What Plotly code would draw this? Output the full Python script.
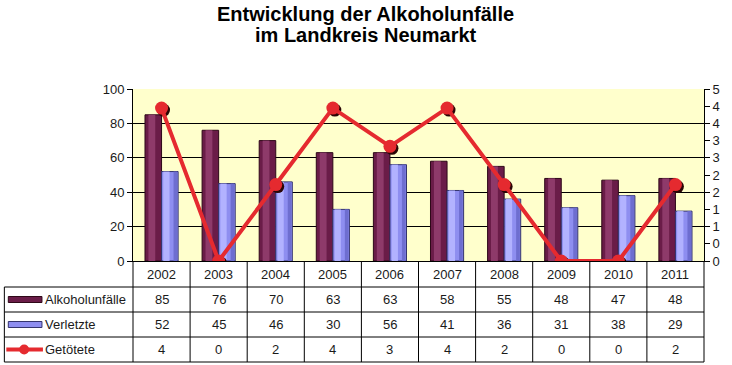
import plotly.graph_objects as go

years = [2002, 2003, 2004, 2005, 2006, 2007, 2008, 2009, 2010, 2011]
alkoholunfaelle = [85, 76, 70, 63, 63, 58, 55, 48, 47, 48]
verletzte = [52, 45, 46, 30, 56, 41, 36, 31, 38, 29]
getoetete = [4, 0, 2, 4, 3, 4, 2, 0, 0, 2]
series_names = ["Alkoholunfälle", "Verletzte", "Getötete"]
title_lines = ["Entwicklung der Alkoholunfälle", "im Landkreis Neumarkt"]
left_ticks = [0, 20, 40, 60, 80, 100]
right_tickvals = [0, 0.45, 0.9, 1.35, 1.8, 2.25, 2.7, 3.15, 3.6, 4.05, 4.5]
right_ticktext = ["0", "0", "1", "1", "2", "2", "3", "3", "4", "4", "5"]

W_PX, H_PX = 732, 365
L, R, T, B = 133, 710, 89, 261
PW, PH = R - L, B - T

def px_x(x):
    return (x - L) / PW

def px_y(y):
    return (B - y) / PH

MAROON = "#6a1c48"
MAROON_HI = "#8e3a6a"
LAV = "#8e8ef0"
LAV_HI = "#b2b2ff"
LAV_DK = "#6e6ed0"
RED = "#e52a2f"
FONT = "Liberation Sans, Arial, sans-serif"

n = len(years)
xr = [years[0] - 0.5, years[-1] + 0.5]
sx = 2 * (xr[1] - xr[0]) / PW   # 2px shift for marker shadow
sy = 2 * 4.5 / PH
BW = 0.29  # bar width in category units

fig = go.Figure()
# bars with simple cylinder-like shading (base + highlight strips)
fig.add_trace(go.Bar(x=years, y=alkoholunfaelle, name=series_names[0], offset=-BW, width=BW,
                     marker=dict(color=MAROON, line=dict(color="#2e0818", width=1))))
fig.add_trace(go.Bar(x=years, y=alkoholunfaelle, offset=-BW + 0.06, width=0.12, hoverinfo="skip",
                     marker=dict(color=MAROON_HI, line=dict(width=0)), showlegend=False))
fig.add_trace(go.Bar(x=years, y=verletzte, name=series_names[1], offset=0, width=BW,
                     marker=dict(color=LAV, line=dict(color="#34346e", width=1))))
fig.add_trace(go.Bar(x=years, y=verletzte, offset=0.03, width=0.11, hoverinfo="skip",
                     marker=dict(color=LAV_HI, line=dict(width=0)), showlegend=False))
fig.add_trace(go.Bar(x=years, y=verletzte, offset=0.21, width=0.065, hoverinfo="skip",
                     marker=dict(color=LAV_DK, line=dict(width=0)), showlegend=False))
# invisible trace that keeps the visible right axis (y2) drawn
fig.add_trace(go.Scatter(x=years, y=getoetete, yaxis="y2", mode="markers",
                         marker=dict(size=1, opacity=0), showlegend=False, hoverinfo="skip"))
# marker shadow (shifted axes)
fig.add_trace(go.Scatter(x=years, y=getoetete, yaxis="y3", xaxis="x2", mode="markers",
                         marker=dict(size=13, color="#2a0505"),
                         showlegend=False, hoverinfo="skip"))
# red line on unshifted hidden overlay axes (drawn above the shadow)
fig.add_trace(go.Scatter(x=years, y=getoetete, yaxis="y4", xaxis="x3", name=series_names[2],
                         mode="lines+markers", line=dict(color=RED, width=4),
                         marker=dict(size=13, color=RED)))

shapes = []
def line(x0, y0, x1, y1, w=1, c="black"):
    shapes.append(dict(type="line", xref="paper", yref="paper",
                       x0=px_x(x0), y0=px_y(y0), x1=px_x(x1), y1=px_y(y1),
                       line=dict(color=c, width=w)))

rows = [261, 287, 312, 337, 362]
TL = 3
for y in rows[1:]:
    line(TL, y, R, y)
line(TL, rows[1], TL, rows[-1])
for k in range(n + 1):
    x = L + k * PW / n
    line(x, rows[0], x, rows[-1])

annotations = []
def txt(x, y, s, xref="x", anchor="center", size=13):
    annotations.append(dict(x=x, y=px_y(y), xref=xref, yref="paper", text=s, showarrow=False,
                            xanchor=anchor, yanchor="middle",
                            font=dict(family=FONT, size=size, color="#1a1a1a")))

centers = [(rows[i] + rows[i + 1]) / 2 for i in range(4)]
for i, yr in enumerate(years):
    txt(yr, centers[0], str(yr))
    txt(yr, centers[1], str(alkoholunfaelle[i]))
    txt(yr, centers[2], str(verletzte[i]))
    txt(yr, centers[3], str(getoetete[i]))
for j, nm in enumerate(series_names):
    txt(px_x(42), centers[j + 1], nm, xref="paper", anchor="left")

# title
for tl, ty in zip(title_lines, [14, 35]):
    annotations.append(dict(x=px_x(368), y=px_y(ty), xref="paper", yref="paper", text="<b>" + tl + "</b>",
                            showarrow=False, xanchor="center", yanchor="middle",
                            font=dict(family=FONT, size=20, color="black")))

# legend keys
for j, (col, lc) in enumerate([(MAROON, "#2e0818"), (LAV, "#34346e")]):
    cy = centers[j + 1]
    shapes.append(dict(type="rect", xref="paper", yref="paper",
                       x0=px_x(7), x1=px_x(41), y0=px_y(cy - 3), y1=px_y(cy + 3),
                       fillcolor=col, line=dict(color=lc, width=1)))
cy = centers[3]
line(5, cy, 42, cy, w=4, c=RED)
shapes.append(dict(type="circle", xref="paper", yref="paper",
                   x0=px_x(18), x1=px_x(28), y0=px_y(cy - 5), y1=px_y(cy + 5),
                   fillcolor=RED, line=dict(color=RED, width=0)))

fig.update_layout(
    width=W_PX, height=H_PX,
    margin=dict(l=L, r=W_PX - R, t=T, b=H_PX - B, pad=0),
    paper_bgcolor="white", plot_bgcolor="#ffffcc",
    barmode="overlay",
    showlegend=False,
    font=dict(family=FONT, size=13, color="#1a1a1a"),
    xaxis=dict(range=xr, showticklabels=False, ticks="", showgrid=False,
               showline=True, linecolor="black", linewidth=1, zeroline=False),
    xaxis2=dict(overlaying="x", visible=False, range=[xr[0] - sx, xr[1] - sx]),
    xaxis3=dict(overlaying="x", visible=False, range=xr),
    yaxis=dict(range=[0, 100], tickvals=left_ticks, showgrid=True, gridcolor="black", gridwidth=1,
               showline=True, linecolor="black", linewidth=1, ticks="outside", ticklen=5,
               tickcolor="black", zeroline=False, tickfont=dict(size=13)),
    yaxis2=dict(range=[0, 4.5], overlaying="y", side="right", tickvals=right_tickvals,
                ticktext=right_ticktext, showgrid=False, showline=True, linecolor="black",
                ticks="outside", ticklen=5, tickcolor="black", zeroline=False, tickfont=dict(size=13)),
    yaxis3=dict(range=[sy, 4.5 + sy], overlaying="y", visible=False),
    yaxis4=dict(range=[0, 4.5], overlaying="y", visible=False),
    shapes=shapes, annotations=annotations,
)
fig.write_html("out.html", config={"displayModeBar": False},
               post_script="document.body.style.margin='0';")
